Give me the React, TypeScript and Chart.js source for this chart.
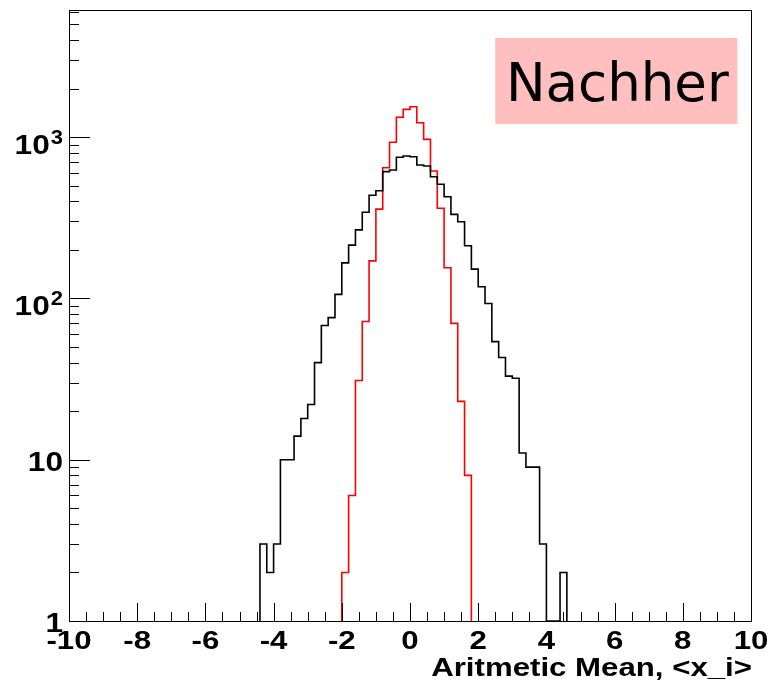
import React, { useEffect, useRef } from "react";
import { Chart, registerables } from "chart.js";

Chart.register(...registerables);

// ---------------- data ----------------
const BIN_WIDTH = 0.2;
const X_MIN = -10;
const X_MAX = 10;
const Y_MIN = 1;
const Y_MAX = 6140;

// "before" (black) histogram, bins starting at -4.4
const blackStart = -4.4;
const blackCounts = [
  3, 2, 3, 10, 10, 14, 18, 22, 40, 68, 76, 106, 166, 214, 266, 342, 436, 465,
  611, 626, 750, 764, 756, 671, 662, 568, 510, 427, 332, 299, 212, 152, 118, 93,
  54, 43, 33, 32, 11, 9, 9, 3, 0, 0, 2,
];

// "after" (red) histogram, bins starting at -2.0
const redStart = -2.0;
const redCounts = [
  2, 6, 31, 72, 171, 358, 646, 929, 1327, 1487, 1543, 1228, 969, 616, 362, 155,
  70, 23, 8,
];

const xTickValues = [-10, -8, -6, -4, -2, 0, 2, 4, 6, 8, 10];
const xTickLabels = ["-10", "-8", "-6", "-4", "-2", "0", "2", "4", "6", "8", "10"];
const yTickValues = [1, 10, 100, 1000];
const yTickBase = ["1", "10", "10", "10"];
const yTickExp = ["", "", "2", "3"];
const xTitle = "Aritmetic Mean, <x_i>";
const boxLabel = "Nachher";

// ---------------- helpers ----------------
function stepPoints(start: number, counts: number[]) {
  const pts: { x: number; y: number }[] = [];
  pts.push({ x: start, y: Y_MIN });
  counts.forEach((c, i) => {
    pts.push({ x: +(start + i * BIN_WIDTH).toFixed(3), y: c > 0 ? c : Y_MIN });
  });
  pts.push({ x: +(start + counts.length * BIN_WIDTH).toFixed(3), y: Y_MIN });
  return pts;
}

const FONT = '"Liberation Sans", Arial, Helvetica, sans-serif';

function stretchedText(
  ctx: CanvasRenderingContext2D,
  text: string,
  x: number,
  y: number,
  align: "left" | "right" | "center",
  stretch: number
) {
  const w = ctx.measureText(text).width * stretch;
  let left = x;
  if (align === "right") left = x - w;
  else if (align === "center") left = x - w / 2;
  ctx.save();
  ctx.translate(left, y);
  ctx.scale(stretch, 1);
  ctx.textAlign = "left";
  ctx.fillText(text, 0, 0);
  ctx.restore();
  return w;
}

const rootStylePlugin = {
  id: "rootStyle",
  afterDraw(chart: any) {
    const ctx: CanvasRenderingContext2D = chart.ctx;
    const area = chart.chartArea;
    const xs = chart.scales.x;
    const ys = chart.scales.y;
    ctx.save();

    // frame
    ctx.strokeStyle = "#000";
    ctx.lineWidth = 1;
    ctx.strokeRect(
      Math.round(area.left) + 0.5,
      Math.round(area.top) + 0.5,
      Math.round(area.right - area.left),
      Math.round(area.bottom - area.top)
    );

    // x ticks (inward)
    ctx.beginPath();
    for (let i = 0; i <= 40; i++) {
      const v = X_MIN + i * 0.5;
      const px = Math.round(xs.getPixelForValue(v)) + 0.5;
      const major = Math.abs(v % 2) < 1e-9;
      const len = major ? 18 : 9;
      ctx.moveTo(px, area.bottom);
      ctx.lineTo(px, area.bottom - len);
    }
    // y ticks (inward)
    for (let d = 0; d < 4; d++) {
      for (let m = 1; m <= 9; m++) {
        const v = m * Math.pow(10, d);
        if (v > Y_MAX) break;
        const py = Math.round(ys.getPixelForValue(v)) + 0.5;
        const len = m === 1 ? 21 : 10;
        ctx.moveTo(area.left, py);
        ctx.lineTo(area.left + len, py);
      }
    }
    ctx.stroke();

    // x tick labels
    ctx.fillStyle = "#000";
    ctx.font = `bold 26px ${FONT}`;
    ctx.textBaseline = "alphabetic";
    xTickValues.forEach((v, i) => {
      const px = xs.getPixelForValue(v);
      stretchedText(ctx, xTickLabels[i], px, area.bottom + 28, "center", 1.2);
    });

    // y tick labels
    const rightEdge = area.left - 6;
    yTickValues.forEach((v, i) => {
      const py = ys.getPixelForValue(v);
      const exp = yTickExp[i];
      if (exp) {
        ctx.font = `bold 20px ${FONT}`;
        const ew = ctx.measureText(exp).width * 1.1;
        stretchedText(ctx, exp, rightEdge, py + 7, "right", 1.1);
        ctx.font = `bold 27.5px ${FONT}`;
        stretchedText(ctx, yTickBase[i], rightEdge - ew - 1, py + 17, "right", 1.15);
      } else {
        ctx.font = `bold 27.5px ${FONT}`;
        stretchedText(ctx, yTickBase[i], rightEdge, py + 11, "right", 1.15);
      }
    });

    // x title
    ctx.font = `bold 26px ${FONT}`;
    stretchedText(ctx, xTitle, area.right + 1, area.bottom + 55, "right", 1.2);

    // label box
    const bx = xs.getPixelForValue(2.5);
    const bx2 = xs.getPixelForValue(9.6);
    const by = 38;
    const by2 = 124;
    ctx.fillStyle = "#ffbfbf";
    ctx.fillRect(bx, by, bx2 - bx, by2 - by);
    ctx.fillStyle = "#000";
    ctx.font = `53px "DejaVu Sans", sans-serif`;
    ctx.textAlign = "center";
    ctx.textBaseline = "alphabetic";
    ctx.fillText(boxLabel, (bx + bx2) / 2 + 1, 101);

    ctx.restore();
  },
};

export default function App() {
  const canvasRef = useRef<HTMLCanvasElement | null>(null);

  useEffect(() => {
    const canvas = canvasRef.current;
    if (!canvas) return;
    const chart = new Chart(canvas, {
      type: "line",
      data: {
        datasets: [
          {
            label: "Vorher",
            data: stepPoints(blackStart, blackCounts),
            borderColor: "#000000",
            borderWidth: 1.6,
            stepped: "before",
            pointRadius: 0,
            fill: false,
          },
          {
            label: "Nachher",
            data: stepPoints(redStart, redCounts),
            borderColor: "#ff0000",
            borderWidth: 1.6,
            stepped: "before",
            pointRadius: 0,
            fill: false,
          },
        ],
      },
      options: {
        animation: false,
        responsive: false,
        devicePixelRatio: 1,
        parsing: false,
        layout: { padding: { left: 69, top: 10, right: 29, bottom: 62 } },
        plugins: {
          legend: { display: false },
          tooltip: { enabled: false },
        },
        scales: {
          x: { type: "linear", min: X_MIN, max: X_MAX, display: false },
          y: { type: "logarithmic", min: Y_MIN, max: Y_MAX, display: false },
        },
      },
      plugins: [rootStylePlugin],
    });
    return () => chart.destroy();
  }, []);

  return (
    <div style={{ position: "absolute", left: 0, top: 0, width: 780, height: 683, background: "#fff" }}>
      <canvas ref={canvasRef} width={780} height={683} style={{ width: 780, height: 683 }} />
    </div>
  );
}
